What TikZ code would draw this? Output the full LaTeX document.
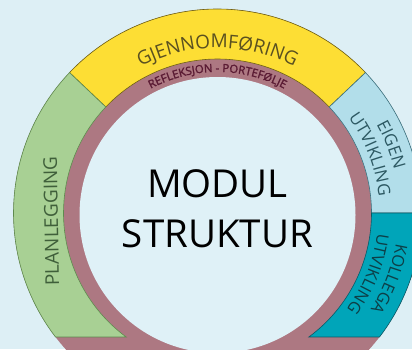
\documentclass[tikz,border=0pt]{standalone}
\usepackage{fontspec}
\setmainfont{Open Sans}
\newfontfamily\reflfont[FakeBold=1.8]{Open Sans}
\usetikzlibrary{decorations.text,calc}
\definecolor{bgc}{HTML}{DDEFF5}
\definecolor{innerc}{HTML}{DFF1F7}
\definecolor{mauve}{HTML}{AD7882}
\definecolor{yel}{HTML}{FDDE34}
\definecolor{yelline}{HTML}{6E6015}
\definecolor{grn}{HTML}{A8D094}
\definecolor{grnline}{HTML}{5E8A4E}
\definecolor{lblue}{HTML}{B2DEEA}
\definecolor{lblueline}{HTML}{3B7380}
\definecolor{teal}{HTML}{00A5B9}
\definecolor{tealline}{HTML}{0A5A66}
\definecolor{gjtxt}{HTML}{5A5020}
\definecolor{pltxt}{HTML}{3F5F3A}
\definecolor{eitxt}{HTML}{2C5862}
\definecolor{kotxt}{HTML}{0D3F47}
\definecolor{retxt}{HTML}{5A1A33}
\newcommand{\gjf}{\fontsize{19}{19}\selectfont}
\newcommand{\rff}{\reflfont\fontsize{11.3}{11.3}\selectfont}
\newcommand{\eif}{\fontsize{17}{17}\selectfont}
\newcommand{\kof}{\fontsize{16.5}{16.5}\selectfont}
\tikzset{
  segline/.style={line width=0.6pt, line join=miter},
  arctext/.style={decorate, decoration={text along path, text align=center}},
}
\begin{document}
\begin{tikzpicture}[x=1pt,y=1pt]
\useasboundingbox (0,0) rectangle (412,349);
\fill[bgc] (0,0) rectangle (412,349);
\coordinate (C) at (217.5,136);
\coordinate (Ci) at (217.5,134);
\fill[mauve] (C) circle[radius=204];
% yellow
\draw[segline, fill=yel, draw=yelline] ($(C)+(43.5:204)$) arc[start angle=43.5,end angle=136.5,radius=204] -- ($(C)+(136.5:154)$) arc[start angle=136.5,end angle=43.5,radius=154] -- cycle;
% green
\draw[segline, fill=grn, draw=grnline] ($(C)+(136.5:204)$) arc[start angle=136.5,end angle=217.43,radius=204] -- ($(C)+(233.63:154)$) arc[start angle=233.63,end angle=136.5,radius=154] -- cycle;
% light blue
\draw[segline, fill=lblue, draw=lblueline] ($(C)+(0:204)$) arc[start angle=0,end angle=43.5,radius=204] -- ($(C)+(43.5:154)$) arc[start angle=43.5,end angle=0,radius=154] -- cycle;
% teal
\draw[segline, fill=teal, draw=tealline] ($(C)+(0:204)$) arc[start angle=0,end angle=-37.43,radius=204] -- ($(C)+(-53.63:154)$) arc[start angle=-53.63,end angle=0,radius=154] -- cycle;
% inner circle
\fill[innerc] (Ci) circle[radius=138];
% texts on arcs
\path[arctext, decoration={text color=gjtxt, text={|\gjf|GJENNOMFØRING}}] ($(C)+(150:165)$) arc[start angle=150,end angle=30,radius=165];
\path[arctext, decoration={text color=retxt, text={|\rff|REFLEKSJON - PORTEFØLJE}}] ($(C)+(160:141)$) arc[start angle=160,end angle=20,radius=141];
\path[arctext, decoration={text color=eitxt, text={|\eif|EIGEN}}] ($(C)+(61.5:182)$) arc[start angle=61.5,end angle=-18.5,radius=182];
\path[arctext, decoration={text color=eitxt, text={|\eif|UTVIKLING}}] ($(C)+(61:162)$) arc[start angle=61,end angle=-19,radius=162];
\path[arctext, decoration={text color=kotxt, text={|\kof|KOLLEGA}}] ($(C)+(19:181)$) arc[start angle=19,end angle=-61,radius=181];
\path[arctext, decoration={text color=kotxt, text={|\kof|UTVIKLING}}] ($(C)+(18:161)$) arc[start angle=18,end angle=-62,radius=161];
\node[rotate=91, anchor=base, text=pltxt, font=\fontsize{19}{19}\selectfont, inner sep=0pt] (plan) at (58,128) {PLANLEGGING};
\node[anchor=base, font=\fontsize{38.5}{38.5}\selectfont, inner sep=0pt] (modul) at (217.5,152) {MODUL};
\node[anchor=base, font=\fontsize{38.5}{38.5}\selectfont, inner sep=0pt] (struktur) at (217.5,102) {STRUKTUR};
\end{tikzpicture}
\end{document}
